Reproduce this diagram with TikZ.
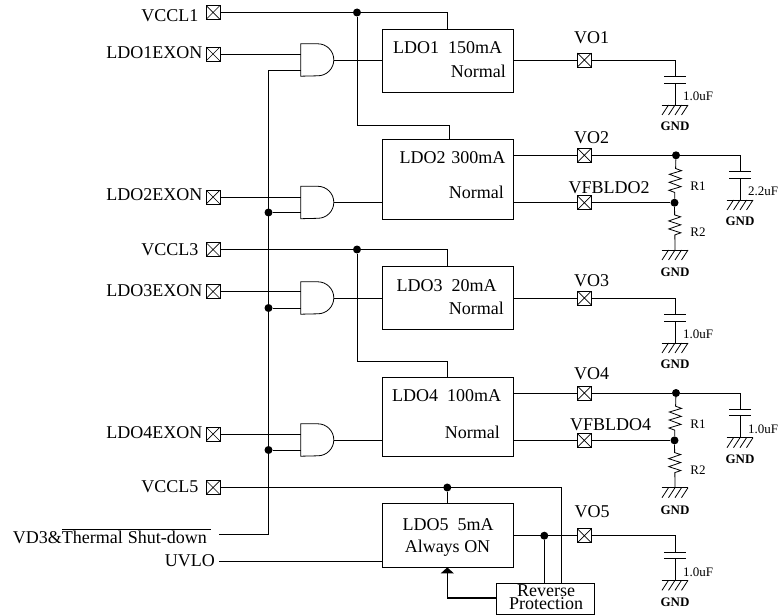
\documentclass[tikz,border=0pt]{standalone}
\usepackage{fontspec}
\setmainfont{Liberation Serif}
\usetikzlibrary{arrows.meta,positioning,calc,decorations.pathmorphing}
\newcommand{\andgate}[3]{%
  \node[inner sep=0pt,minimum width=33pt,minimum height=32pt] (#1) at (#2,#3) {};
  \coordinate (#1a) at (#2-16.5,#3-6);
  \coordinate (#1b) at (#2-16.5,#3+10);
  \draw[wire] (#1.north west) -- ++(17,0) arc[start angle=-90,end angle=90,radius=16] -- (#1.south west) -- cycle;
}
\tikzset{
  wire/.style={line width=0.8pt},
  lab/.style={font=\fontsize{18}{20}\selectfont,inner sep=0pt},
  smalllab/.style={font=\fontsize{13}{15}\selectfont,inner sep=0pt},
  gndlab/.style={font=\fontsize{13}{15}\selectfont\bfseries,inner sep=0pt},
  ldobox/.style={draw,wire,rectangle,inner sep=0pt},
  pad/.style={draw,wire,rectangle,inner sep=0pt,minimum size=14pt,
    path picture={\draw[line width=0.7pt] (path picture bounding box.north west) -- (path picture bounding box.south east)
      (path picture bounding box.north east) -- (path picture bounding box.south west);}},
  dot/.style={circle,fill=black,inner sep=0pt,minimum size=8pt},
  res/.style 2 args={wire,decorate,decoration={zigzag,amplitude=6pt,segment length=8pt,pre length=#1,post length=#2}},
  gndsym/.pic={
    \draw[wire] (-13.3,0) -- (13,0);
    \foreach \i in {-6.5,0,6.5,13} \draw[wire] (\i,0) -- (\i-6.5,10);
  },
}
\begin{document}
\begin{tikzpicture}[x=1pt,y=-1pt]
\useasboundingbox (0,0) rectangle (778,615);
% pads
\node[pad] (vccl1) at (213,12.5) {};
\node[pad] (ex1) at (213,54) {};
\node[pad] (ex2) at (213,197) {};
\node[pad] (vccl3) at (213,249.5) {};
\node[pad] (ex3) at (213,291.5) {};
\node[pad] (ex4) at (213,434) {};
\node[pad] (vccl5) at (213,487.5) {};
\node[pad] (vo1) at (584.3,60) {};
\node[pad] (vo2) at (584.3,155.3) {};
\node[pad] (fb2) at (584.3,202.7) {};
\node[pad] (vo3) at (584.3,298) {};
\node[pad] (vo4) at (584.3,393) {};
\node[pad] (fb4) at (584.3,440.4) {};
\node[pad] (vo5) at (584.3,535.7) {};
% left labels
\node[lab,left=7pt of vccl1,yshift=-3pt] (vccl1t) {VCCL1};
\node[lab,left=3pt of ex1,yshift=1pt] (ex1t) {LDO1EXON};
\node[lab,left=3pt of ex2,yshift=2pt] (ex2t) {LDO2EXON};
\node[lab,left=7pt of vccl3] (vccl3t) {VCCL3};
\node[lab,left=3pt of ex3,yshift=1pt] (ex3t) {LDO3EXON};
\node[lab,left=3pt of ex4,yshift=1pt] (ex4t) {LDO4EXON};
\node[lab,left=7pt of vccl5,yshift=1pt] (vccl5t) {VCCL5};
\node[lab,anchor=east] (vd3t) at (211,536) {VD3\&$\overline{\hbox{Thermal\hspace{5pt}Shut-down\hspace{4pt}}}$};
\node[lab,anchor=east] (uvlot) at (215,561) {UVLO};
\coordinate (vd3) at (219,534.5);
\coordinate (uvlo) at (219,561);
% gates
\andgate{and1}{317.5}{60}
\andgate{and2}{317.5}{202.5}
\andgate{and3}{317.5}{298}
\andgate{and4}{317.5}{440}
% regulators
\node[ldobox,minimum width=131pt,minimum height=63pt] (ldo1) at (447.5,60.5) {};
\node[ldobox,minimum width=131pt,minimum height=79.5pt] (ldo2) at (447.5,179.2) {};
\node[ldobox,minimum width=131pt,minimum height=63pt] (ldo3) at (447.5,297.5) {};
\node[ldobox,minimum width=131pt,minimum height=79pt] (ldo4) at (447.5,416.5) {};
\node[ldobox,minimum width=131pt,minimum height=64pt] (ldo5) at (447.5,535) {};
\node[ldobox,minimum width=98pt,minimum height=31pt] (rev) at (545,598.5) {};
\node[lab] (ldo1a) at (447.5,48) {LDO1\ \ 150mA};
\node[lab,anchor=east] (ldo1b) at (506,71) {Normal};
\node[lab] (ldo2a) at (452.5,158) {LDO2\hspace{6pt}300mA};
\node[lab,anchor=east] (ldo2b) at (504,192) {Normal};
\node[lab] (ldo3a) at (446.5,286) {LDO3\ \ 20mA};
\node[lab,anchor=east] (ldo3b) at (504,308) {Normal};
\node[lab] (ldo4a) at (446.5,396) {LDO4\ \ 100mA};
\node[lab,anchor=east] (ldo4b) at (500,432) {Normal};
\node[lab] (ldo5a) at (448,525) {LDO5\ \ 5mA};
\node[lab] (ldo5b) at (447.5,548) {Always ON};
\node[lab,align=center,font=\fontsize{18}{13}\selectfont] (revt) at (546,597.5) {Reverse\\Protection};
% right labels
\node[lab] (vo1t) at (591.5,38) {VO1};
\node[lab] (vo2t) at (591.5,137.7) {VO2};
\node[lab] (fb2t) at (609,188) {VFBLDO2};
\node[lab] (vo3t) at (591.5,281) {VO3};
\node[lab] (vo4t) at (591.5,374) {VO4};
\node[lab] (fb4t) at (610.5,425) {VFBLDO4};
\node[lab] (vo5t) at (592,512) {VO5};
% junctions
\node[dot] (j1) at (357,12.5) {};
\node[dot] (j3) at (357,249.5) {};
\node[dot] (j5) at (447.3,487.5) {};
\node[dot] (j6) at (544.3,535.7) {};
\node[dot] (b2) at (268.5,212.5) {};
\node[dot] (b3) at (268.5,308) {};
\node[dot] (b4) at (268.5,450) {};
\node[dot] (o2) at (676,155.3) {};
\node[dot] (f2) at (674.5,202.7) {};
\node[dot] (o4) at (676,393) {};
\node[dot] (f4) at (674.5,440.4) {};
\coordinate (r2g) at (675,250);
\coordinate (r4g) at (675,487.7);
% inputs
\draw[wire] (vccl1) -- (447.5,12.5) -- (ldo1.north -| 447.5,0);
\draw[wire] (j1) |- (449,125) -- (ldo2.north -| 449,0);
\draw[wire] (vccl3) -- (447.5,249.5) -- (ldo3.north -| 447.5,0);
\draw[wire] (j3) |- (447.5,361) -- (ldo4.north -| 447.5,0);
\draw[wire] (vccl5) -- (561.7,487.5) -- (rev.north -| 561.7,0);
\draw[wire] (j5) -- (j5 |- ldo5.north);
\draw[wire] (ex1) -- (ex1 -| and1a);
\draw[wire] (ex2) -- (ex2 -| and2a);
\draw[wire] (ex3) -- (ex3 -| and3a);
\draw[wire] (ex4) -- (ex4 -| and4a);
\draw[wire] (and1b) -| (vd3 -| b2) |- (vd3);
\draw[wire] (b2) -- (and2b);
\draw[wire] (b3) -- (and3b);
\draw[wire] (b4) -- (and4b);
\draw[wire] (and1.east) -- (and1.east -| ldo1.west);
\draw[wire] (and2.east) -- (and2.east -| ldo2.west);
\draw[wire] (and3.east) -- (and3.east -| ldo3.west);
\draw[wire] (and4.east) -- (and4.east -| ldo4.west);
\draw[wire] (uvlo) -- (uvlo -| ldo5.west);
% outputs
\draw[wire] (vo1 -| ldo1.east) -- (vo1);
\draw[wire] (vo2 -| ldo2.east) -- (vo2) -- (o2);
\draw[wire] (fb2 -| ldo2.east) -- (fb2) -- (f2);
\draw[wire] (vo3 -| ldo3.east) -- (vo3);
\draw[wire] (vo4 -| ldo4.east) -- (vo4) -- (o4);
\draw[wire] (fb4 -| ldo4.east) -- (fb4) -- (f4);
\draw[wire] (vo5 -| ldo5.east) -- (vo5);
\draw[wire] (j6) -- (j6 |- rev.north);
\draw[line width=1.3pt,-{Triangle[length=6pt,width=13pt]}] (rev.west |- 0,598) -| (j5 |- ldo5.south);
% dividers
\draw[res={9pt}{4pt}] (o2) -- (f2);
\draw[res={8pt}{13pt}] (f2) -- (r2g);
\draw[res={9pt}{4pt}] (o4) -- (f4);
\draw[res={8pt}{13pt}] (f4) -- (r4g);
\pic at (r2g) {gndsym};
\pic at (r4g) {gndsym};
\node[smalllab] (r1a) at (698,186.7) {R1};
\node[smalllab] (r2a) at (698,232) {R2};
\node[gndlab] (gr2) at (675,272.7) {GND};
\node[smalllab] (r1b) at (698,424.4) {R1};
\node[smalllab] (r2b) at (698,469.7) {R2};
\node[gndlab] (gr4) at (675,510.4) {GND};
% output capacitors
\foreach \n/\src/\cx/\cy/\val in {1/vo1/675/76.7/1.0uF,2/o2/740/171.7/2.2uF,3/vo3/675/314.7/1.0uF,
    4/o4/740/409.4/1.0uF,5/vo5/675/552/1.0uF}{
  \coordinate (c\n) at (\cx,\cy);
  \coordinate (d\n) at (\cx,\cy+6.5);
  \coordinate (g\n) at (\cx,\cy+28.3);
  \draw[wire] (\src) -| (c\n);
  \draw[wire] (d\n) -- (g\n);
  \draw[line width=1pt] (\cx-11,\cy) -- (\cx+11,\cy) (\cx-11,\cy+6.5) -- (\cx+11,\cy+6.5);
  \pic at (g\n) {gndsym};
  \node[smalllab,anchor=west] (v\n) at (\cx+8,\cy+20) {\val};
  \node[gndlab] (gl\n) at (\cx,\cy+50) {GND};
}
\end{tikzpicture}
\end{document}
